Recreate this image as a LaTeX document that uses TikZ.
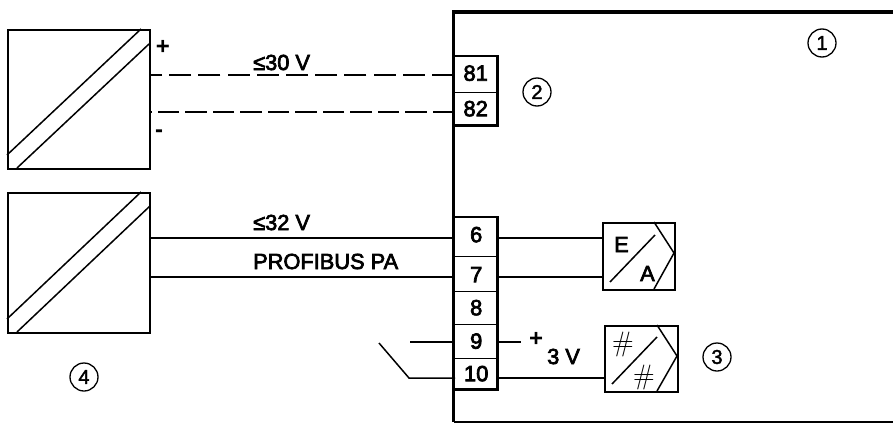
\documentclass[tikz,border=0pt]{standalone}
\usepackage{fontspec}
\setmainfont{Liberation Sans}
\newfontfamily\heavy[FakeBold=3.2]{Liberation Sans}
\newfontfamily\midf[FakeBold=2]{Liberation Sans}
\newfontfamily\hashf{Latin Modern Roman}
\tikzset{
  x=1pt,y=-1pt,
  conv/.style={draw,line width=1.7pt,inner sep=0pt,anchor=north west},
  wire/.style={line width=1.5pt},
  dashwire/.style={line width=1.5pt},
  term/.style={draw=none,inner sep=0pt,minimum width=42pt,anchor=north west,font=\fontsize{22}{22}\selectfont\heavy,text height=15pt,text depth=0pt},
  txt/.style={inner sep=0pt,anchor=base west,font=\fontsize{21.8}{21.8}\selectfont\heavy},
  sign/.style={inner sep=0pt,anchor=center,font=\fontsize{24}{24}\selectfont\bfseries},
  num/.style={circle,draw,line width=1.3pt,minimum size=28pt,inner sep=0pt,font=\fontsize{20}{20}\selectfont\midf},
  hash/.style={inner sep=0pt,font=\fontsize{28}{28}\selectfont\hashf},
}
\begin{document}
\begin{tikzpicture}
\useasboundingbox (0,0) rectangle (893,423);
% converters left
\node[conv,minimum width=142pt,minimum height=139pt] (c1) at (7,29) {};
\node[conv,minimum width=142pt,minimum height=140pt] (c2) at (7,192) {};
\draw[wire] (c1.south west |- 0,155) -- (141,29);
\draw[wire] (17,168) -- (149,44);
\draw[wire] (c2.south west |- 0,319) -- (141,192);
\draw[wire] (17,332) -- (150,206);
% enclosure
\coordinate (encTR) at (893,12);
\coordinate (encTL) at (453.5,12);
\coordinate (encBL) at (453.5,422);
\coordinate (encBR) at (893,422);
\draw[line width=3.4pt] (encTR) -- (encTL) -- (encBL);
\draw[line width=2.2pt] (encBL) -- (encBR);
% terminals
\node[term,minimum width=43pt,minimum height=36pt] (t81) at (454,56) {\raisebox{1pt}{81}};
\node[term,minimum width=43pt,minimum height=33pt] (t82) at (454,92) {\raisebox{0pt}{82}};
\node[term,minimum height=39pt] (t6) at (455,217) {\raisebox{2pt}{6}};
\node[term,minimum height=35pt] (t7) at (455,256) {\raisebox{-1pt}{7}};
\node[term,minimum height=33pt] (t8) at (455,291) {\raisebox{0pt}{8}};
\node[term,minimum height=34pt] (t9) at (455,324) {\raisebox{0pt}{9}};
\node[term,minimum height=31pt] (t10) at (455,358) {\raisebox{0pt}{10}};
\draw[line width=2.4pt] (t81.north west) -- (t81.north east) -- (t82.south east) -- (t82.south west);
\draw[line width=1.2pt] (t81.south west) -- (t81.south east);
\draw[line width=2.4pt] (t6.north west) -- (t6.north east) -- (t10.south east) -- (t10.south west);
\draw[line width=1.2pt] (t6.south west) -- (t6.south east);
\draw[line width=1.2pt] (t7.south west) -- (t7.south east);
\draw[line width=1.2pt] (t8.south west) -- (t8.south east);
\draw[line width=1.2pt] (t9.south west) -- (t9.south east);
% dashed
\draw[dashwire,dash pattern=on 22pt off 7.2pt] (t81.west |- 0,75) -- (c1.east |- 0,75);
\draw[dashwire,dash pattern=on 21.5pt off 6pt] (t82.west |- 0,112) -- (c1.east |- 0,112);
% solid
\draw[wire] (c2.east |- 0,238) -- (t6.west |- 0,238);
\draw[wire] (c2.east |- 0,277) -- (t7.west |- 0,277);
\coordinate (k9) at (410,342);
\coordinate (k10a) at (379,343);
\coordinate (k10b) at (409,378);
\draw[wire] (k9) -- (t9.west |- k9);
\draw[wire] (k10a) -- (k10b) -- (t10.west |- k10b);
% E/A
\node[conv,minimum width=72pt,minimum height=67pt] (ea) at (602,222) {};
\draw[wire] (t6.east |- 0,238) -- (ea.west |- 0,238);
\draw[wire] (t7.east |- 0,277) -- (ea.west |- 0,277);
\draw[wire] (654,222) -- (674,253) -- (654,289);
\draw[wire] (610,282) -- (655,235);
% #/#
\node[conv,minimum width=73pt,minimum height=66pt] (hh) at (604,325) {};
\coordinate (v9) at (521,342);
\draw[wire] (t9.east |- v9) -- (v9);
\draw[wire] (t10.east |- 0,378) -- (hh.west |- 0,378);
\draw[wire] (657,325) -- (677,356) -- (657,391);
\draw[wire] (612,384) -- (657,337);
\node[hash] (h1) at (623,345) {\#};
\node[hash] (h2) at (644,378) {\#};
% text
\node[txt] (l30) at (253,70) {≤30 V};
\node[txt] (l32) at (253,230) {≤32 V};
\node[txt] (lpb) at (253,269) {PROFIBUS PA};
\node[sign] (lp) at (163,47) {+};
\node[sign] (lm) at (159,134) {-};
\node[txt] (lE) at (614,252) {E};
\node[txt] (lA) at (640,281) {A};
\node[sign] (lp3) at (536,339) {+};
\node[txt] (l3v) at (547,364) {3 V};
\node[num] (n1) at (822,43) {1};
\node[num] (n2) at (537,92) {2};
\node[num] (n3) at (717,357) {3};
\node[num] (n4) at (84,377) {4};
\end{tikzpicture}
\end{document}
